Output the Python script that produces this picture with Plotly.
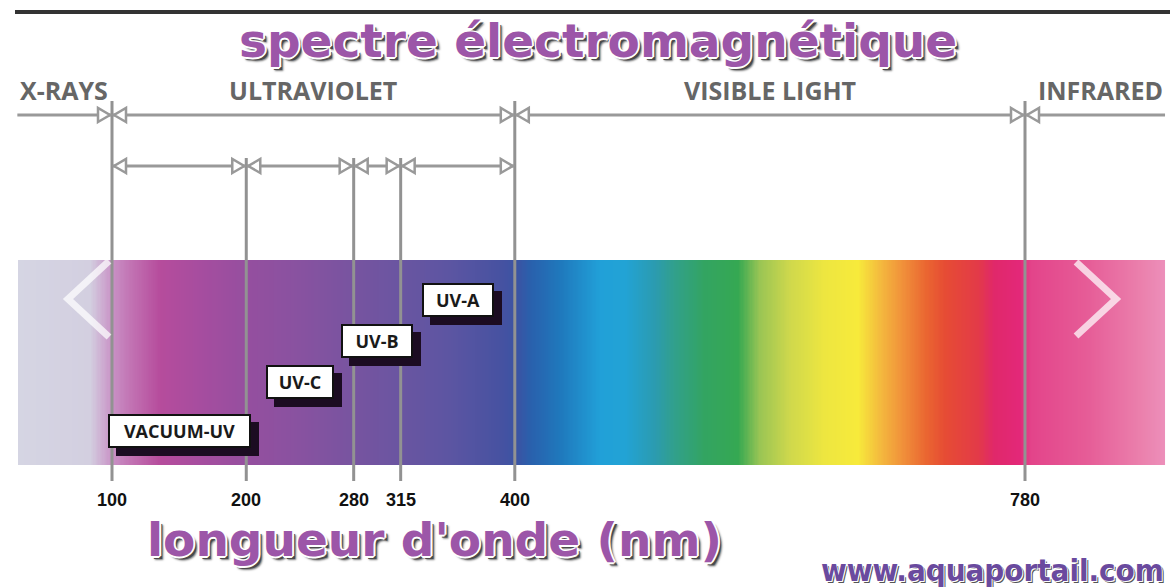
import numpy as np
import plotly.graph_objects as go

# ---------------- data ----------------
regions = ["X-RAYS", "ULTRAVIOLET", "VISIBLE LIGHT", "INFRARED"]
region_bounds = [100, 400, 780]            # nm, main boundaries
uv_bands = ["VACUUM-UV", "UV-C", "UV-B", "UV-A"]
uv_bounds = [100, 200, 280, 315, 400]      # nm, UV sub-band boundaries
tick_values = [100, 200, 280, 315, 400, 780]
tick_labels = ["100", "200", "280", "315", "400", "780"]

# colour of the spectrum strip at given wavelengths (nm)
spectrum_nm = [30, 83.6, 100, 113.4, 135.7, 165.5, 202.8, 240.0, 282.5, 314.5,
               351.7, 389.0, 401.6, 411.3, 433.7, 463.5, 482.1, 504.4, 518.6,
               540.9, 566.3, 582.6, 605.0, 630.3, 655.6, 672.8, 689.2, 706.3,
               720.4, 745.0, 756.9, 776.3, 784.5, 826.2, 868.6, 884.3]
spectrum_colors = ["#d5d5e3", "#d3cfe0", "#c992c6", "#c274b4", "#b64c9c", "#a64d9f",
                   "#944f9f", "#8852a0", "#7654a0", "#6a55a1", "#5c55a2", "#4752a1",
                   "#3b53a3", "#2a60ac", "#1f78bc", "#21a0d8", "#22a3d5", "#2b9bb0",
                   "#31a08c", "#33a462", "#35a852", "#9ac554", "#cfd84c", "#ede640",
                   "#f7ea3b", "#f4b83e", "#f0903a", "#ea6631", "#e64c34", "#e33a48",
                   "#e0286a", "#e32879", "#e3448a", "#e65c97", "#eb82ae", "#ec8fba"]

# ---------------- scale / layout constants ----------------
W, H = 1170, 587
X_MIN, X_MAX = 16.58, 888.0
BAND_LO, BAND_HI = spectrum_nm[0], spectrum_nm[-1]
BAND_TOP, BAND_BOT = 260, 465
LINE1_Y, LINE2_Y = 115, 166
VLINE_BOT = 481
GRAY = "#999999"

fig = go.Figure()

# spectrum strip (heatmap through the x scale)
edges = np.linspace(BAND_LO, BAND_HI, 900)
centers = (edges[:-1] + edges[1:]) / 2
cs = [[(v - BAND_LO) / (BAND_HI - BAND_LO), c] for v, c in zip(spectrum_nm, spectrum_colors)]
fig.add_trace(go.Heatmap(x=edges, y=[BAND_TOP, BAND_BOT], z=[centers],
                         zmin=BAND_LO, zmax=BAND_HI, colorscale=cs,
                         showscale=False, hoverinfo="skip"))

shapes = []
# top black rule
shapes.append(dict(type="line", xref="paper", yref="y", x0=15 / W, x1=1, y0=12, y1=12,
                   line=dict(color="#333333", width=4)))
# horizontal arrow lines
shapes.append(dict(type="line", x0=BAND_LO - 0.5, x1=BAND_HI, y0=LINE1_Y, y1=LINE1_Y,
                   line=dict(color=GRAY, width=3), layer="above"))
shapes.append(dict(type="line", x0=uv_bounds[0], x1=uv_bounds[-1], y0=LINE2_Y, y1=LINE2_Y,
                   line=dict(color=GRAY, width=3), layer="above"))
# vertical boundary lines
for b in region_bounds:
    shapes.append(dict(type="line", x0=b, x1=b, y0=101, y1=VLINE_BOT,
                       line=dict(color="#929292", width=3), layer="above"))
for b in uv_bounds[1:-1]:
    shapes.append(dict(type="line", x0=b, x1=b, y0=LINE2_Y - 8, y1=VLINE_BOT,
                       line=dict(color="#929292", width=3), layer="above"))


def tri(xa, ya, side):
    # side=-1: triangle left of the line pointing right; side=+1: right, pointing left
    s = side
    path = f"M{s*14},-7 L{s*2},0 L{s*14},7 Z"
    return dict(type="path", xsizemode="pixel", ysizemode="pixel", xanchor=xa, yanchor=ya,
                path=path, fillcolor="white", line=dict(color=GRAY, width=2.5), layer="above")


for b in region_bounds:
    shapes.append(tri(b, LINE1_Y, -1))
    shapes.append(tri(b, LINE1_Y, +1))
for i, b in enumerate(uv_bounds):
    if i > 0:
        shapes.append(tri(b, LINE2_Y, -1))
    if i < len(uv_bounds) - 1:
        shapes.append(tri(b, LINE2_Y, +1))

# carousel chevrons
shapes.append(dict(type="path", xsizemode="pixel", ysizemode="pixel", xanchor=BAND_LO,
                   yanchor=BAND_TOP + 39, path="M91,38 L50,0 L91,-38",
                   line=dict(color="rgba(255,255,255,0.72)", width=7), layer="above"))
shapes.append(dict(type="path", xsizemode="pixel", ysizemode="pixel", xanchor=BAND_HI,
                   yanchor=BAND_TOP + 39, path="M-89,37 L-49,0 L-89,-37",
                   line=dict(color="rgba(255,255,255,0.72)", width=7), layer="above"))

annotations = []

outline = ("1px 1px 0 #fff, -1px -1px 0 #fff, 1px -1px 0 #fff, -1px 1px 0 #fff, "
           "2px 0 0 #fff, 0 2px 0 #fff, 3px 3px 0 #4a4a4a, 4px 4px 2px #777")

# title
annotations.append(dict(text="spectre électromagnétique", xref="paper", yref="y",
                        x=598 / W, y=40, xanchor="center", yanchor="middle", showarrow=False,
                        font=dict(family="DejaVu Sans", size=47, color="#9c56a8",
                                  weight="bold", shadow=outline)))

# region labels
reg_x = [BAND_LO, (region_bounds[0] + region_bounds[1]) / 2,
         (region_bounds[1] + region_bounds[2]) / 2, BAND_HI]
reg_anchor = ["left", "center", "center", "right"]
for name, xv, xa in zip(regions, reg_x, reg_anchor):
    annotations.append(dict(text=name, x=xv, y=90, xanchor=xa, yanchor="middle",
                            showarrow=False,
                            font=dict(family="Open Sans", size=25, color="#666666",
                                      weight="bold")))

# UV band label boxes
box_rows = [431, 382, 341, 300]
box_w = [141, 66, 70, 70]
box_h = 31
for i, name in enumerate(uv_bands):
    xc = (uv_bounds[i] + uv_bounds[i + 1]) / 2
    common = dict(x=xc, y=box_rows[i], xanchor="center", yanchor="middle",
                  showarrow=False, width=box_w[i] - 2, height=box_h - 1, borderpad=0,
                  borderwidth=2, align="center", valign="middle")
    annotations.append(dict(**common, text=" ", xshift=8, yshift=-8, bgcolor="#1c0c22",
                            bordercolor="#1c0c22",
                            font=dict(family="Open Sans", size=18, color="#1c0c22")))
    annotations.append(dict(**common, text=name, bgcolor="white", bordercolor="#111111",
                            font=dict(family="Open Sans", size=18, color="#1a1a1a",
                                      weight="bold")))

# wavelength tick labels
for tv, tl in zip(tick_values, tick_labels):
    annotations.append(dict(text=tl, x=tv, y=500, xanchor="center", yanchor="middle",
                            showarrow=False,
                            font=dict(family="Liberation Sans Narrow, Liberation Sans",
                                      size=18, color="#111111", weight="bold")))

# axis title
annotations.append(dict(text="longueur d'onde (nm)", xref="paper", yref="y",
                        x=145 / W, y=539, xanchor="left", yanchor="middle", showarrow=False,
                        font=dict(family="DejaVu Sans", size=47, color="#9c56a8",
                                  weight="bold", shadow=outline)))
# url
annotations.append(dict(text="www.aquaportail.com", xref="paper", yref="y",
                        x=1166 / W, y=570, xanchor="right", yanchor="middle", showarrow=False,
                        font=dict(family="DejaVu Sans Condensed, DejaVu Sans", size=31,
                                  color="#6a4a9e", weight="bold",
                                  shadow="1px 1px 0 #fff, -1px -1px 0 #fff, 2px 2px 0 #555")))

fig.update_layout(
    width=W, height=H, margin=dict(l=0, r=0, t=0, b=0),
    paper_bgcolor="white", plot_bgcolor="white",
    xaxis=dict(range=[X_MIN, X_MAX], visible=False, fixedrange=True),
    yaxis=dict(range=[H, 0], visible=False, fixedrange=True),
    shapes=shapes, annotations=annotations, showlegend=False,
)

fig.write_html("out.html", config={"displayModeBar": False},
               post_script="document.body.style.margin='0';")
